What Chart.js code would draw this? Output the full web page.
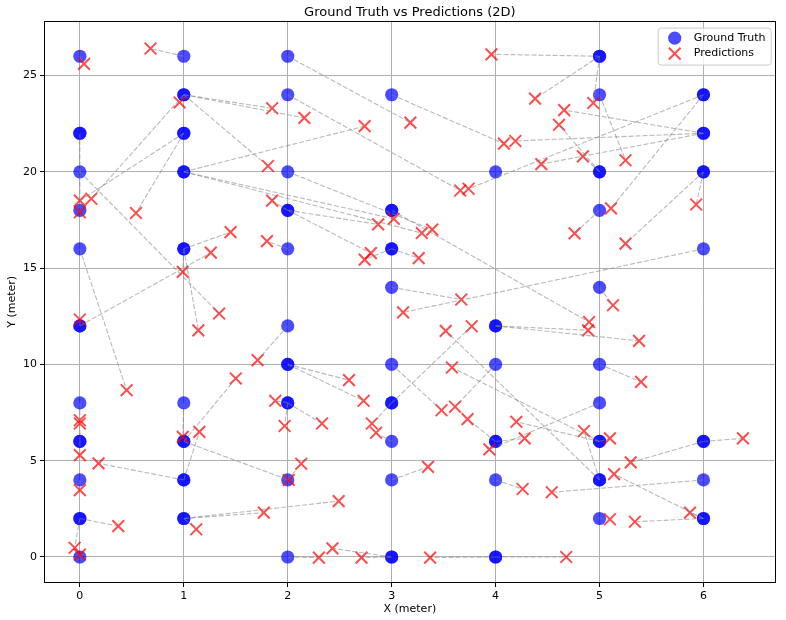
<!DOCTYPE html>
<html>
<head>
<meta charset="utf-8">
<script src="https://cdn.jsdelivr.net/npm/chart.js@4.4.1/dist/chart.umd.min.js"></script>
<style>
  html, body { margin: 0; padding: 0; background: #fff; }
</style>
</head>
<body>
<canvas id="chart" width="786" height="620"></canvas>
<script>
// Ground truth vs predictions scatter

// Ground truth positions (repeated entries = points stacked on top of each other)
const truthX = [
  0, 0, 0, 0, 0, 0, 0, 0, 0, 0, 0, 0, 0, 0, 0,
  1, 1, 1, 1, 1, 1, 1, 1, 1, 1, 1, 1, 1, 1, 1, 1,
  2, 2, 2, 2, 2, 2, 2, 2, 2, 2, 2, 2, 2,
  3, 3, 3, 3, 3, 3, 3, 3, 3, 3, 3, 3, 3,
  4, 4, 4, 4, 4, 4, 4, 4, 4,
  5, 5, 5, 5, 5, 5, 5, 5, 5, 5, 5, 5, 5, 5,
  6, 6, 6, 6, 6, 6, 6, 6, 6, 6, 6, 6
];
const truthY = [
  26, 22, 22, 20, 18, 16, 12, 12, 8, 6, 6, 4, 2, 2, 0,
  26, 24, 24, 22, 22, 20, 20, 16, 16, 8, 6, 6, 4, 4, 2, 2,
  26, 24, 20, 18, 18, 16, 12, 10, 10, 8, 8, 4, 0,
  24, 18, 18, 16, 16, 14, 10, 8, 8, 6, 4, 0, 0,
  20, 12, 12, 10, 6, 6, 4, 0, 0,
  26, 26, 24, 20, 20, 18, 14, 10, 8, 6, 6, 4, 4, 2,
  24, 24, 22, 22, 20, 20, 16, 6, 6, 4, 2, 2
];

// Predicted positions
const predX = [
  0.04, 0.68, 0.96, 1.85, 2.16, 1.81, 1.85, 0.0, 0.11, 0.0,
  0.54, 1.45, 1.26, 0.99, 1.34, 1.14, 0.0, 0.45, 2.74, 3.18,
  4.08, 4.19, 3.66, 3.74, 3.96, 4.38, 4.94, 4.66, 4.61, 4.84,
  4.44, 5.25, 5.11, 5.93, 5.25, 4.76, 5.13, 3.11, 3.67, 1.8,
  2.87, 3.02, 3.29, 3.39, 2.8, 2.74, 3.26, 4.9, 4.89, 5.38,
  3.52, 3.77, 1.71, 1.5, 0.99, 1.15, 0.0, 0.0, 0.0, 0.18,
  0.0, 0.37, -0.05, 0.0, 1.12, 1.77, 2.49, 2.01, 2.13, 1.88,
  1.97, 2.59, 2.73, 2.81, 2.85, 2.33, 3.48, 3.61, 3.58, 3.73,
  3.94, 4.28, 4.2, 4.85, 5.1, 6.38, 5.3, 5.14, 3.35, 4.26,
  4.54, 5.1, 5.34, 5.87, 2.3, 2.43, 2.71, 3.37, 4.68, 5.4
];
const predY = [
  25.6, 26.4, 23.6, 23.3, 22.8, 20.3, 18.5, 18.5, 18.6, 17.9,
  17.86, 16.87, 15.8, 14.8, 12.64, 11.77, 12.33, 8.66, 22.37, 22.55,
  21.46, 21.6, 19.03, 19.12, 26.1, 23.8, 23.57, 23.2, 22.44, 20.8,
  20.4, 20.6, 18.1, 18.3, 16.27, 16.8, 13.07, 12.7, 13.37, 16.4,
  17.27, 17.56, 16.82, 17.0, 15.78, 15.44, 15.52, 12.2, 11.77, 11.22,
  11.74, 11.98, 10.22, 9.27, 6.24, 6.5, 7.1, 6.93, 5.29, 4.86,
  3.47, 1.6, 0.48, 0.12, 1.44, 2.3, 2.9, 4.0, 4.84, 8.11,
  6.8, 9.18, 8.11, 6.93, 6.45, 6.93, 7.62, 7.8, 9.84, 7.16,
  5.59, 6.16, 7.02, 6.54, 6.16, 6.16, 4.91, 4.3, 4.68, 3.53,
  3.36, 1.96, 1.83, 2.3, -0.03, 0.45, -0.03, -0.03, 0.0, 9.09
];

// Ground truth point each prediction is linked to
const fromX = [
  0, 1, 1, 1, 1, 1, 2, 1, 1, 0,
  1, 1, 0, 1, 0, 1, 0, 0, 1, 2,
  3, 6, 2, 6, 5, 5, 5, 6, 5, 5,
  6, 5, 6, 6, 6, 5, 5, 6, 3, 2,
  2, 1, 1, 2, 2, 3, 3, 3, 4, 4,
  5, 3, 2, 1, 1, 1, 0, 0, 0, 1,
  0, 0, 0, 0, 1, 1, 1, 1, 2, 2,
  2, 2, 2, 3, 3, 2, 3, 4, 5, 4,
  5, 4, 5, 5, 5, 6, 6, 6, 3, 4,
  6, 5, 6, 6, 2, 3, 3, 4, 4, 5
];
const fromY = [
  26, 26, 24, 24, 24, 24, 18, 22, 24, 22,
  22, 16, 12, 16, 20, 16, 12, 16, 20, 26,
  24, 22, 24, 24, 26, 26, 26, 22, 20, 20,
  22, 24, 24, 20, 20, 18, 14, 16, 14, 16,
  18, 20, 20, 20, 18, 16, 16, 18, 12, 12,
  4, 8, 12, 6, 8, 4, 8, 6, 6, 4,
  4, 2, 2, 0, 2, 2, 2, 6, 4, 8,
  8, 10, 10, 8, 6, 8, 10, 10, 6, 6,
  8, 6, 6, 4, 6, 6, 6, 2, 4, 4,
  4, 2, 2, 2, 0, 0, 0, 0, 0, 10
];

const xTicks = [0, 1, 2, 3, 4, 5, 6];
const yTicks = [0, 5, 10, 15, 20, 25];

const FONT = '"DejaVu Sans", "Liberation Sans", sans-serif';
const TRUTH_COLOR = 'rgba(0, 0, 255, 0.7)';
const PRED_COLOR = 'rgba(255, 0, 0, 0.7)';
const DOT_R = 6.6;
const CROSS_R = 8.3;

// One dashed segment per prediction, drawn over the markers
const linkSets = predX.map((px, i) => ({
  data: [{ x: fromX[i], y: fromY[i] }, { x: px, y: predY[i] }],
  showLine: true,
  borderColor: 'rgba(128, 128, 128, 0.55)',
  borderWidth: 1.1,
  borderDash: [5, 2],
  pointRadius: 0,
  order: 0
}));

// Frame around the plot and the boxed legend in the top right corner
const framePlugin = {
  id: 'frame',
  afterDraw(chart) {
    const { ctx, chartArea: a } = chart;
    ctx.save();
    ctx.strokeStyle = '#000';
    ctx.lineWidth = 1;
    ctx.strokeRect(Math.round(a.left) + 0.5, Math.round(a.top) + 0.5,
      Math.round(a.right - a.left) - 1, Math.round(a.bottom - a.top) - 1);

    const bx = a.right - 118, by = a.top + 7, bw = 113, bh = 37;
    ctx.beginPath();
    ctx.roundRect(bx + 0.5, by + 0.5, bw, bh, 3);
    ctx.fillStyle = 'rgba(255, 255, 255, 0.8)';
    ctx.fill();
    ctx.strokeStyle = '#cccccc';
    ctx.stroke();

    ctx.fillStyle = TRUTH_COLOR;
    ctx.beginPath();
    ctx.arc(bx + 17, by + 10.5, DOT_R, 0, Math.PI * 2);
    ctx.fill();

    ctx.strokeStyle = PRED_COLOR;
    ctx.lineWidth = 2;
    Chart.helpers.drawPoint(ctx, {
      pointStyle: 'crossRot', radius: CROSS_R, borderWidth: 2
    }, bx + 17, by + 26);

    ctx.fillStyle = '#000';
    ctx.font = '11px ' + FONT;
    ctx.textBaseline = 'middle';
    ctx.fillText('Ground Truth', bx + 36, by + 10.5);
    ctx.fillText('Predictions', bx + 36, by + 26);
    ctx.restore();
  }
};

new Chart(document.getElementById('chart'), {
  type: 'scatter',
  data: {
    datasets: [
      ...linkSets,
      {
        label: 'Predictions',
        data: predX.map((x, i) => ({ x, y: predY[i] })),
        pointStyle: 'crossRot',
        pointRadius: CROSS_R,
        borderColor: PRED_COLOR,
        pointBorderColor: PRED_COLOR,
        pointBorderWidth: 2,
        borderWidth: 2,
        order: 1
      },
      {
        label: 'Ground Truth',
        data: truthX.map((x, i) => ({ x, y: truthY[i] })),
        pointStyle: 'circle',
        pointRadius: DOT_R,
        backgroundColor: TRUTH_COLOR,
        pointBackgroundColor: TRUTH_COLOR,
        pointBorderWidth: 0,
        borderWidth: 0,
        order: 2
      }
    ]
  },
  options: {
    responsive: false,
    animation: false,
    events: [],
    layout: { padding: { left: 0, right: 6, top: 0, bottom: 0 } },
    plugins: {
      legend: { display: false },
      tooltip: { enabled: false },
      title: {
        display: true,
        fullSize: false,
        text: 'Ground Truth vs Predictions (2D)',
        color: '#000',
        font: { family: FONT, size: 13, weight: 'normal' },
        padding: { top: 5, bottom: 0 }
      }
    },
    scales: {
      x: {
        type: 'linear',
        min: -0.345,
        max: 6.695,
        afterBuildTicks: (s) => { s.ticks = xTicks.map(v => ({ value: v })); },
        afterFit: (s) => { s.height = 37; },
        grid: { color: '#b0b0b0', lineWidth: 1, tickColor: '#000', tickLength: 4, tickWidth: 1 },
        border: { display: false },
        ticks: { color: '#000', font: { family: FONT, size: 11 }, padding: 3, maxRotation: 0 },
        title: {
          display: true, text: 'X (meter)', color: '#000',
          font: { family: FONT, size: 11 }, padding: { top: 0, bottom: 4 }
        }
      },
      y: {
        type: 'linear',
        min: -1.35,
        max: 27.85,
        afterBuildTicks: (s) => { s.ticks = yTicks.map(v => ({ value: v })); },
        afterFit: (s) => { s.width = 44; },
        grid: { color: '#b0b0b0', lineWidth: 1, tickColor: '#000', tickLength: 4, tickWidth: 1 },
        border: { display: false },
        ticks: { color: '#000', font: { family: FONT, size: 11 }, padding: 3 },
        title: {
          display: true, text: 'Y (meter)', color: '#000',
          font: { family: FONT, size: 11 }, padding: { top: 6, bottom: 0 }
        }
      }
    }
  },
  plugins: [framePlugin]
});
</script>
</body>
</html>
